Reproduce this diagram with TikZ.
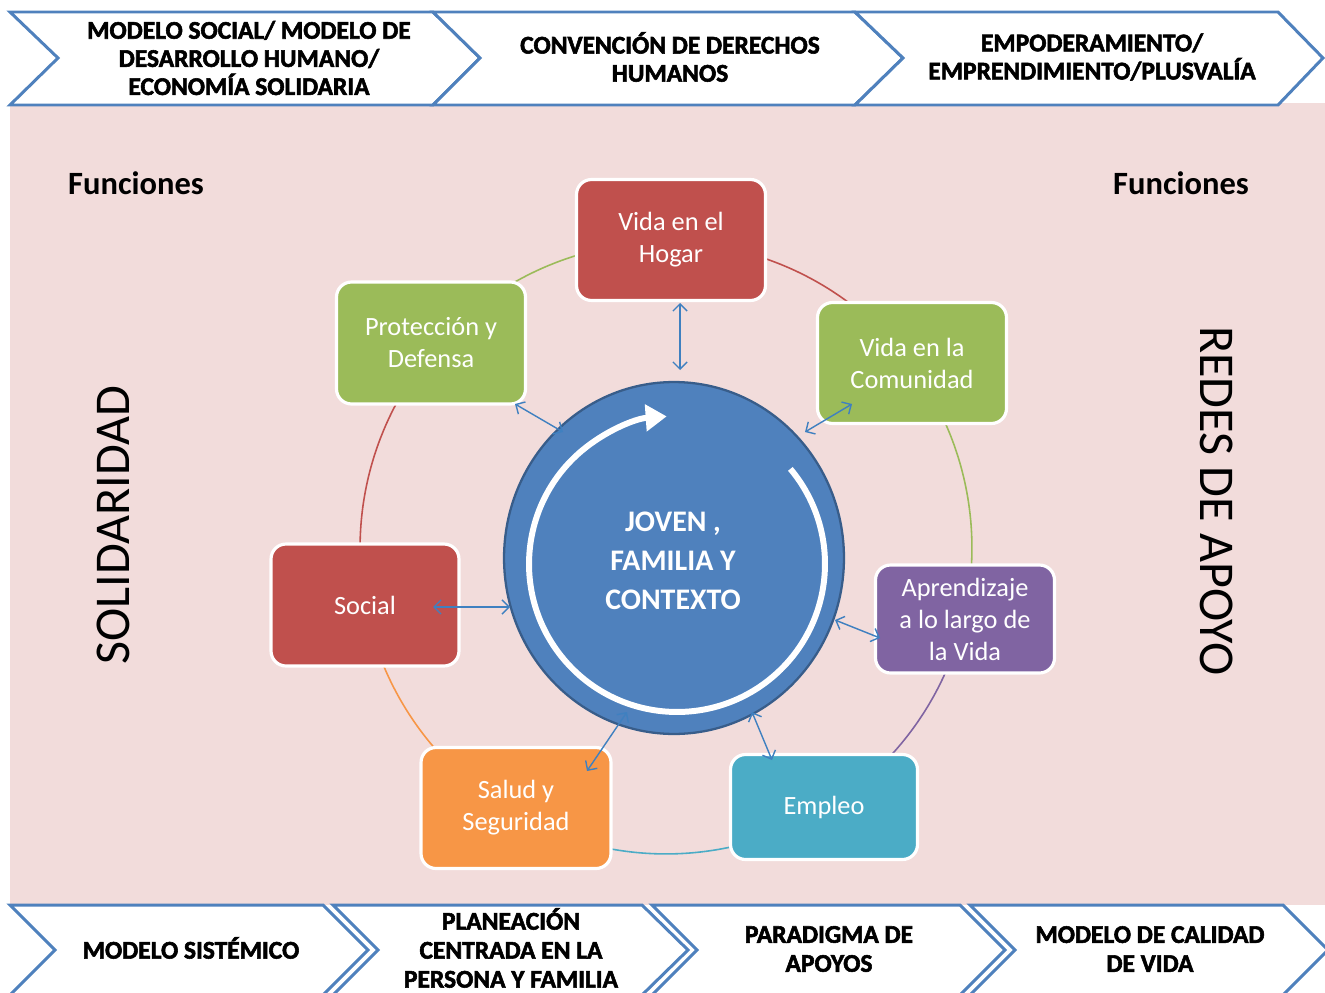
\documentclass[tikz,border=0pt]{standalone}
\usepackage{fontspec}
\setmainfont{Carlito}
\newfontfamily\chev{Carlito Bold}[FakeBold=2.2]
\usetikzlibrary{arrows.meta,shapes.geometric}
\definecolor{bgpink}{HTML}{F2DCDB}
\definecolor{cblue}{HTML}{4F81BD}
\definecolor{cbluedark}{HTML}{385D8A}
\definecolor{cred}{HTML}{C0504D}
\definecolor{cgreen}{HTML}{9BBB59}
\definecolor{cpurple}{HTML}{8064A2}
\definecolor{corange}{HTML}{F79646}
\definecolor{cteal}{HTML}{4BACC6}
\definecolor{arrowblue}{HTML}{3F80C0}
\tikzset{
  fbox/.style={draw=white, line width=1.8pt, rounded corners=0.3cm, text=white,
    align=center, font=\fontsize{15}{18.2}\selectfont, inner sep=0pt},
  chevline/.style={draw=cblue, line width=1.7pt, fill=white, line join=miter},
  chevtext/.style={font=\chev\fontsize{14.5}{16}\selectfont, align=center, inner sep=0pt},
  chevtextb/.style={font=\chev\fontsize{14.5}{16.5}\selectfont, align=center, inner sep=0pt},
  link/.style={draw=arrowblue, line width=0.8pt,
    {Straight Barb[length=4pt,width=8pt]}-{Straight Barb[length=4pt,width=8pt]}},
  ringarc/.style={line width=0.9pt},
  sidetext/.style={font=\fontsize{28.5}{30}\selectfont, inner sep=0pt},
  functext/.style={font=\bfseries\fontsize{18.5}{20}\selectfont, inner sep=0pt}
}
\begin{document}
\begin{tikzpicture}[x=0.02cm,y=0.02cm]
\useasboundingbox (0,0) rectangle (1325,-993);
\clip (0,0) rectangle (1325,-993);
% background
\fill[bgpink] (10,-103) rectangle (1325,-905);
% top chevrons
\draw[chevline] (10,-12) -- (433,-12) -- (480,-58) -- (433,-105) -- (10,-105) -- (58,-58) -- cycle;
\draw[chevline] (433,-12) -- (855,-12) -- (903,-58) -- (855,-105) -- (433,-105) -- (480,-58) -- cycle;
\draw[chevline] (855,-12) -- (1278,-12) -- (1323,-58) -- (1278,-105) -- (855,-105) -- (903,-58) -- cycle;
\node[chevtext] (t1) at (249,-58) {MODELO SOCIAL/ MODELO DE\\DESARROLLO HUMANO/\\ECONOMÍA SOLIDARIA};
\node[chevtext] (t2) at (670,-57) {CONVENCIÓN DE DERECHOS\\HUMANOS};
\node[chevtext] (t3) at (1092,-57) {EMPODERAMIENTO/\\EMPRENDIMIENTO/PLUSVALÍA};
% bottom chevrons
\draw[chevline] (10,-905) -- (323,-905) -- (368,-950) -- (323,-995) -- (10,-995) -- (55,-950) -- cycle;
\draw[chevline] (333,-905) -- (642,-905) -- (688,-950) -- (642,-995) -- (333,-995) -- (378,-950) -- cycle;
\draw[chevline] (652,-905) -- (960,-905) -- (1005,-950) -- (960,-995) -- (652,-995) -- (697,-950) -- cycle;
\draw[chevline] (970,-905) -- (1283,-905) -- (1328,-950) -- (1283,-995) -- (970,-995) -- (1015,-950) -- cycle;
\node[chevtextb] (b1) at (191,-948) {MODELO SISTÉMICO};
\node[chevtextb] (b2) at (511,-948) {PLANEACIÓN\\CENTRADA EN LA\\PERSONA Y FAMILIA};
\node[chevtextb] (b3) at (829,-949) {PARADIGMA DE\\APOYOS};
\node[chevtextb] (b4) at (1150,-949) {MODELO DE CALIDAD\\DE VIDA};
% side texts
\node[functext] (f1) at (136,-183) {Funciones};
\node[functext] (f2) at (1181,-183) {Funciones};
\node[sidetext, rotate=90] (sol) at (113,-525) {SOLIDARIDAD};
\node[sidetext, rotate=-90] (red) at (1217,-501) {REDES DE APOYO};
% ring
\coordinate (rc) at (666,-548);
\draw[ringarc, cred]    (rc) ++(89:6.12cm)   arc[start angle=89,   end angle=37,   radius=6.12cm];
\draw[ringarc, cgreen]  (rc) ++(37:6.12cm)   arc[start angle=37,   end angle=-13,  radius=6.12cm];
\draw[ringarc, cpurple] (rc) ++(-13:6.12cm)  arc[start angle=-13,  end angle=-59,  radius=6.12cm];
\draw[ringarc, cteal]   (rc) ++(-59:6.12cm)  arc[start angle=-59,  end angle=-120, radius=6.12cm];
\draw[ringarc, corange] (rc) ++(-120:6.12cm) arc[start angle=-120, end angle=-169, radius=6.12cm];
\draw[ringarc, cred]    (rc) ++(-169:6.12cm) arc[start angle=-169, end angle=-221, radius=6.12cm];
\draw[ringarc, cgreen]  (rc) ++(-221:6.12cm) arc[start angle=-221, end angle=-271, radius=6.12cm];
% boxes
\node[fbox, fill=cred, minimum width=3.78cm, minimum height=2.42cm] (hogar) at (671,-240) {Vida en el\\Hogar};
\node[fbox, fill=cgreen, minimum width=3.78cm, minimum height=2.42cm] (comu) at (912,-363) {Vida en la\\Comunidad};
\node[fbox, fill=cgreen, minimum width=3.78cm, minimum height=2.44cm] (prot) at (431,-343) {Protección y\\Defensa};
\node[fbox, fill=cred, minimum width=3.76cm, minimum height=2.44cm] (soc) at (365,-605) {Social};
\node[fbox, fill=cpurple, minimum width=3.58cm, minimum height=2.16cm] (apre) at (965,-619) {Aprendizaje\\a lo largo de\\la Vida};
\node[fbox, fill=corange, minimum width=3.8cm, minimum height=2.42cm] (salud) at (516,-808) {Salud y\\Seguridad};
\node[fbox, fill=cteal, minimum width=3.74cm, minimum height=2.1cm] (emp) at (824,-807) {Empleo};
% central circle
\node[ellipse, fill=cblue, draw=cbluedark, line width=1.3pt, minimum width=6.8cm, minimum height=7.04cm,
  inner sep=0pt] (core) at (674,-558) {};
\draw[white, line width=3.4pt, -{Triangle[length=0.42cm,width=0.52cm]}]
  (677,-564) ++(40:2.96cm) arc[start angle=40, end angle=-266, radius=2.96cm];
\node[text=white, align=center, font=\bfseries\fontsize{17}{22.2}\selectfont, inner sep=0pt] (coretext) at (673,-561) {JOVEN ,\\FAMILIA Y\\CONTEXTO};
% links
\coordinate (h1) at (680,-303); \coordinate (h2) at (680,-370);
\coordinate (c1) at (852,-404); \coordinate (c2) at (805,-432);
\coordinate (p1) at (515,-404); \coordinate (p2) at (563,-432);
\coordinate (s1) at (433,-607); \coordinate (s2) at (510,-607);
\coordinate (a1) at (880,-638); \coordinate (a2) at (835,-620);
\coordinate (sa1) at (587,-771); \coordinate (sa2) at (627,-712);
\coordinate (e1) at (772,-760); \coordinate (e2) at (752,-712);
\draw[link] (h1) -- (h2);
\draw[link] (c1) -- (c2);
\draw[link] (p1) -- (p2);
\draw[link] (s1) -- (s2);
\draw[link] (a1) -- (a2);
\draw[link] (sa1) -- (sa2);
\draw[link] (e1) -- (e2);
\end{tikzpicture}
\end{document}
